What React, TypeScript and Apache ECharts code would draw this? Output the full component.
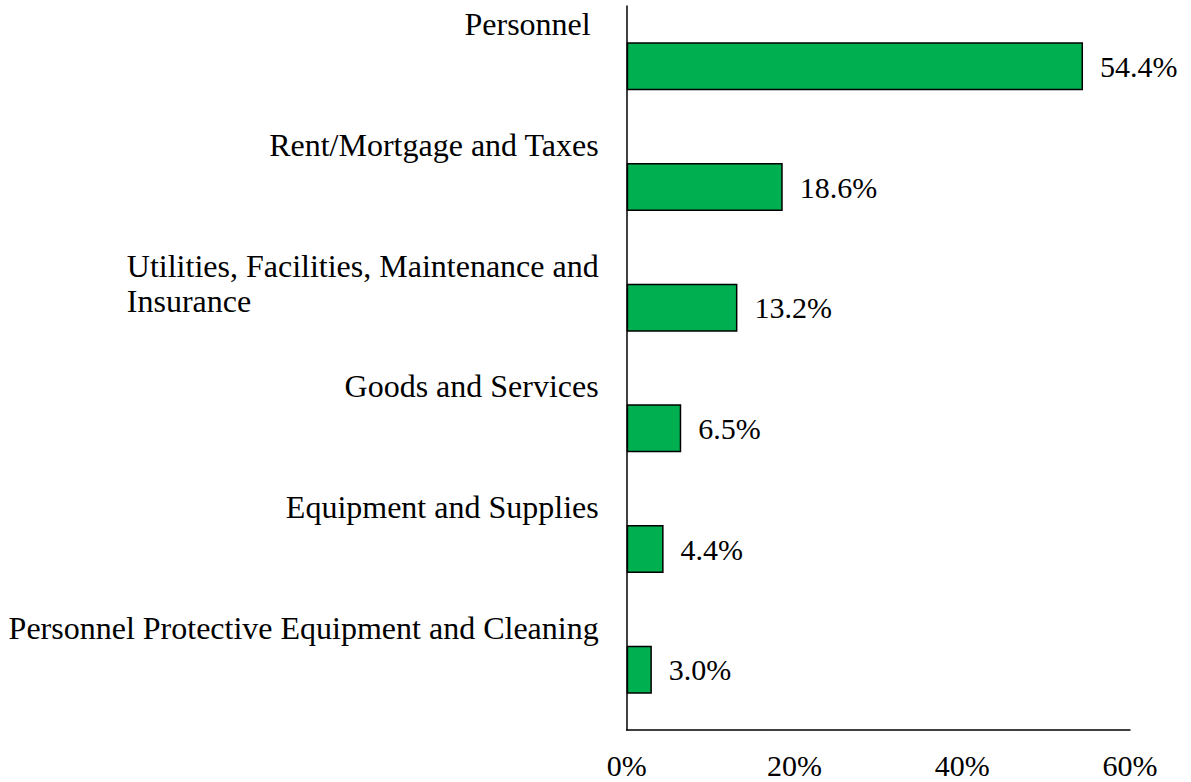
import React, { useEffect, useRef } from "react";
import * as echarts from "echarts";

const categories = [
  "Personnel ",
  "Rent/Mortgage and Taxes",
  "Utilities, Facilities, Maintenance and\nInsurance",
  "Goods and Services",
  "Equipment and Supplies",
  "Personnel Protective Equipment and Cleaning",
];
const values = [54.4, 18.6, 13.2, 6.5, 4.4, 3.0];
const xMin = 0;
const xMax = 60;
const xInterval = 20;

const FONT = "'Liberation Serif', 'Times New Roman', serif";

export default function App() {
  const ref = useRef<HTMLDivElement>(null);
  useEffect(() => {
    if (!ref.current) return;
    const chart = echarts.init(ref.current, undefined, { renderer: "svg" });
    const tokenBase = { fontSize: 32, fontFamily: FONT, color: "#000", lineHeight: 35 };
    chart.setOption({
      animation: false,
      backgroundColor: "#fff",
      grid: { left: 626.7, right: 61, top: 6, bottom: 52, containLabel: false, outerBoundsMode: "none" },
      xAxis: {
        type: "value",
        min: xMin,
        max: xMax,
        interval: xInterval,
        axisLine: { show: true, lineStyle: { color: "#000", width: 1.5 } },
        axisTick: { show: false },
        splitLine: { show: false },
        axisLabel: {
          formatter: (v: number) => `${v}%`,
          fontSize: 30,
          fontFamily: FONT,
          color: "#000",
          lineHeight: 30,
          margin: 20,
        },
      },
      yAxis: {
        type: "category",
        inverse: true,
        data: categories,
        axisLine: { show: true, lineStyle: { color: "#000", width: 1.5 } },
        axisTick: { show: false },
        axisLabel: {
          interval: 0,
          margin: 28,
          align: "right",
          verticalAlign: "middle",
          fontSize: 32,
          fontFamily: FONT,
          color: "#000",
          lineHeight: 35,
          height: 70,
          padding: [0, 0, 49, 0],
          formatter: (v: string) => {
            const lines = v.split("\n");
            return lines
              .map((ln, i) => {
                if (i > 0) return `{b|${ln}}`;
                if (/\s$/.test(ln)) return `{p|${ln.trim()}}`;
                return `{a|${ln}}`;
              })
              .join("\n");
          },
          rich: {
            a: { ...tokenBase, align: "right" },
            b: { ...tokenBase, align: "left" },
            p: { ...tokenBase, align: "right", padding: [0, 8, 0, 0] },
          },
        },
      },
      series: [
        {
          type: "bar",
          data: values,
          barWidth: 48,
          itemStyle: { color: "#00B050", borderColor: "#000", borderWidth: 1.5 },
          label: {
            show: true,
            position: "right",
            distance: 17,
            fontSize: 30,
            fontFamily: FONT,
            color: "#000",
            formatter: (p: any) => `${Number(p.value).toFixed(1)}%`,
          },
        },
      ],
    });
    return () => chart.dispose();
  }, []);
  return (
    <div
      ref={ref}
      style={{ position: "fixed", left: 0, top: 0, width: 1191, height: 782, background: "#fff" }}
    />
  );
}
